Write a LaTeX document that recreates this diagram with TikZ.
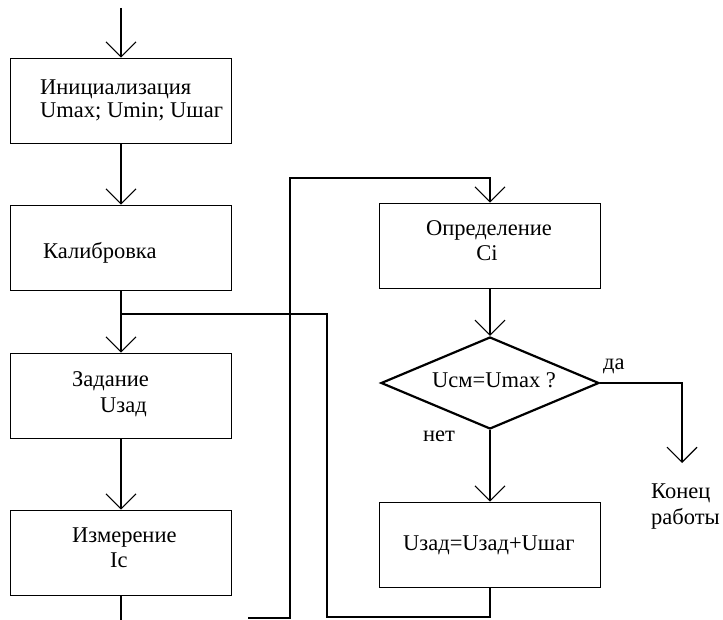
\documentclass[tikz,border=0pt]{standalone}
\usepackage{fontspec}
\setmainfont{Liberation Serif}
\usetikzlibrary{arrows.meta,shapes.geometric}
\begin{document}
\begin{tikzpicture}[x=1pt,y=-1pt,
  box/.style={draw,line width=1.8pt,minimum width=221pt,minimum height=85pt,inner sep=0pt},
  dia/.style={draw,diamond,line width=2.2pt,minimum width=218pt,minimum height=92pt,inner sep=0pt},
  conn/.style={line width=1.1pt},
  arr/.style={-{Straight Barb[length=15pt,width=30pt,line width=1.1pt]}},
  lbl/.style={font=\fontsize{22.5}{26}\selectfont,inner sep=0pt},
  lw/.style={lbl,anchor=base west},
  lc/.style={lbl,anchor=base}]
\useasboundingbox (0,0) rectangle (723,620);
% boxes
\node[box] (b1) at (121,101) {};
\node[box] (b2) at (121,248) {};
\node[box] (b3) at (121,396) {};
\node[box] (b4) at (121,553) {};
\node[box] (b5) at (490,246) {};
\node[dia] (d)  at (490,383) {};
\node[box] (b6) at (490,545) {};
% texts
\node[lw] (t1a) at (40,95) {Инициализация};
\node[lw] (t1b) at (40,118) {Umax; Umin; Uшаг};
\node[lw] (t2) at (43,259) {Калибровка};
\node[lw] (t3a) at (72,386) {Задание};
\node[lw] (t3b) at (100,412) {Uзад};
\node[lw] (t4a) at (72,542) {Измерение};
\node[lw] (t4b) at (110,567) {Ic};
\node[lc] (t5a) at (489,236) {Определение};
\node[lc] (t5b) at (487,261) {Ci};
\node[lw] (td) at (432,387) {Uсм=Umax ?};
\node[lw] (t6) at (403,550) {Uзад=Uзад+Uшаг};
\node[lw] (yes) at (603,370) {да};
\node[lw] (no) at (423,441) {нет};
\node[lw] (e1) at (651,498) {Конец};
\node[lw] (e2) at (651,524) {работы};
% coordinates
\coordinate (top) at (121,8);
\coordinate (bot) at (121,620);
\coordinate (j1) at (121,314);
\coordinate (r1) at (327,314);
\coordinate (r2) at (327,617);
\coordinate (l1) at (248,618);
\coordinate (l2) at (290,618);
\coordinate (l3) at (290,178);
\coordinate (y1) at (682,383);
\coordinate (y2) at (682,463);
% connectors
\draw[conn,arr] (top) -- (b1.north);
\draw[conn,arr] (b1) -- (b2);
\draw[conn,arr] (b2) -- (b3);
\draw[conn,arr] (b3) -- (b4);
\draw[conn] (b4) -- (bot);
\draw[conn] (b6.south) -- (b6.south |- r2) -- (r2) -- (r1) -- (j1);
\draw[conn,arr] (l1) -- (l2) -- (l3) -- (l3 -| b5.north) -- (b5.north);
\draw[conn,arr] (b5) -- (d);
\draw[conn,arr] (d) -- (b6);
\draw[conn,arr] (d.east) -- (y1) -- (y2);
\end{tikzpicture}
\end{document}
